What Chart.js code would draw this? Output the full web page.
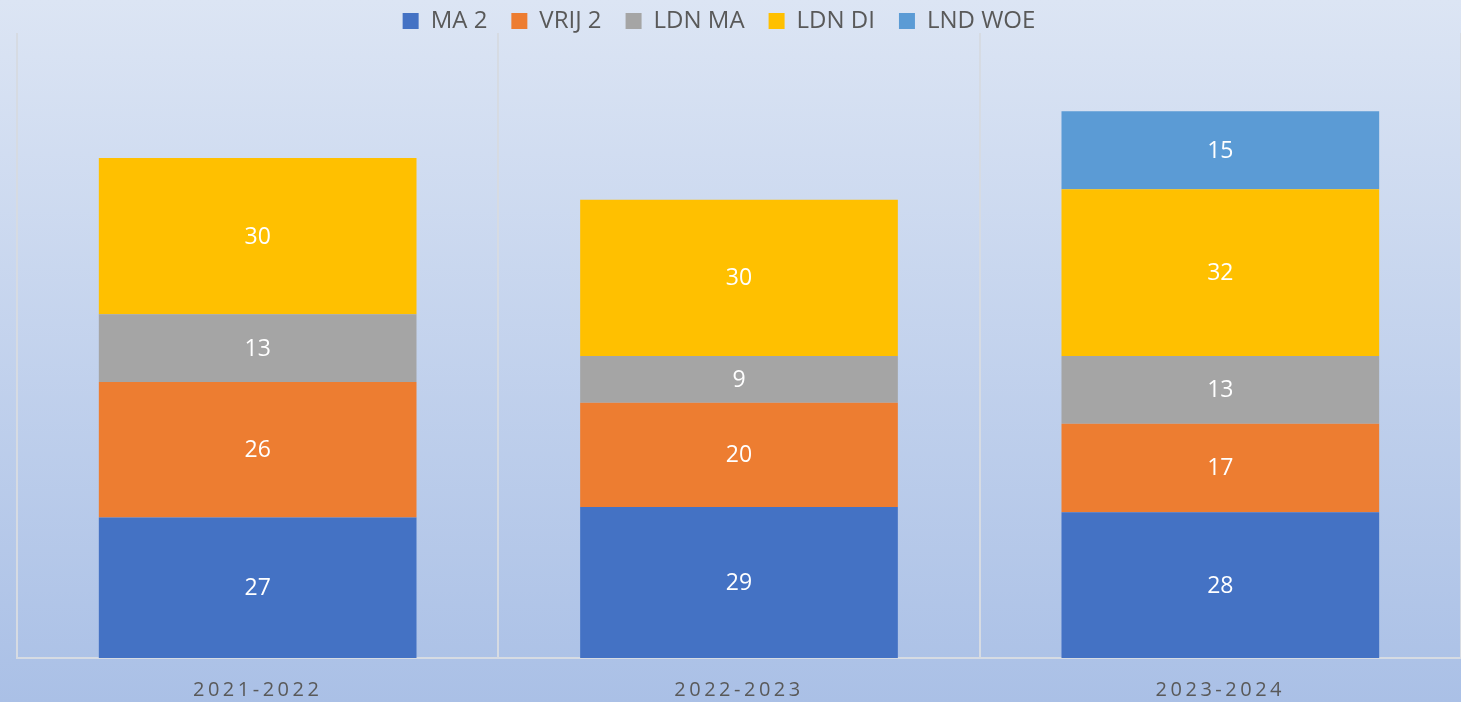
<!DOCTYPE html>
<html>
<head>
<meta charset="utf-8">
<script src="https://cdn.jsdelivr.net/npm/chart.js@4/dist/chart.umd.min.js"></script>
<style>
    html, body { margin: 0; padding: 0; overflow: hidden; }
    #wrap { width: 1461px; height: 702px; }
</style>
</head>
<body>
<div id="wrap"><canvas id="schoolChart"></canvas></div>
<script>
const years = ["2021-2022", "2022-2023", "2023-2024"];
const seriesNames = ["MA 2", "VRIJ 2", "LDN MA", "LDN DI", "LND WOE"];
const ma2 = [27, 29, 28];
const vrij2 = [26, 20, 17];
const ldnMa = [13, 9, 13];
const ldnDi = [30, 30, 32];
const lndWoe = [null, null, 15];
const seriesColors = ["#4472C4", "#ED7D31", "#A5A5A5", "#FFC000", "#5B9BD5"];

const textColor = "#595959";
const fontName = "'Open Sans', 'Noto Sans', sans-serif";

// achtergrond met verloop
const backgroundPlugin = {
    id: "gradientBackground",
    afterLayout(chart) {
        // legenda iets naar links, zoals in het origineel
        if (chart.legend) {
            chart.legend.left -= 20;
            chart.legend.right -= 20;
        }
    },
    beforeDraw(chart) {
        const ctx = chart.ctx;
        const g = ctx.createLinearGradient(0, 0, 0, chart.height);
        g.addColorStop(0, "#dce5f4");
        g.addColorStop(1, "#aac0e6");
        ctx.save();
        ctx.fillStyle = g;
        ctx.fillRect(0, 0, chart.width, chart.height);
        ctx.restore();

        // letterafstand voor de jaartallen onder de as
        const xScale = chart.scales.x;
        if (xScale && !xScale._spaced) {
            const orig = xScale.drawLabels;
            xScale.drawLabels = function (area) {
                this.ctx.save();
                this.ctx.letterSpacing = "3.5px";
                orig.call(this, area);
                this.ctx.restore();
            };
            xScale._spaced = true;
        }
    },
};

// waarden in het midden van elk segment
const valueLabels = {
    id: "valueLabels",
    afterDatasetsDraw(chart) {
        const ctx = chart.ctx;
        ctx.save();
        ctx.fillStyle = "#ffffff";
        ctx.font = "23px " + fontName;
        ctx.textAlign = "center";
        ctx.textBaseline = "middle";
        chart.data.datasets.forEach((ds, i) => {
            const meta = chart.getDatasetMeta(i);
            meta.data.forEach((bar, j) => {
                const v = ds.data[j];
                if (v === null || v === undefined) return;
                const p = bar.getProps(["x", "y", "base"], true);
                ctx.fillText(String(v), p.x, (p.y + p.base) / 2 + 1);
            });
        });
        ctx.restore();
    },
};

const allSeries = [ma2, vrij2, ldnMa, ldnDi, lndWoe];

new Chart(document.getElementById("schoolChart"), {
    type: "bar",
    data: {
        labels: years,
        datasets: seriesNames.map((name, i) => ({
            label: name,
            data: allSeries[i],
            backgroundColor: seriesColors[i],
            borderWidth: 0,
            categoryPercentage: 1,
            barPercentage: 0.66,
        })),
    },
    options: {
        responsive: true,
        maintainAspectRatio: false,
        animation: false,
        layout: { padding: { left: 17, right: 0, top: -15, bottom: 0 } },
        scales: {
            x: {
                stacked: true,
                grid: {
                    offset: true,
                    color: "#d6dbe3",
                    lineWidth: 2,
                    drawTicks: false,
                },
                border: { display: true, color: "#d6dbe3", width: 2 },
                ticks: {
                    color: textColor,
                    font: { family: fontName, size: 20 },
                    padding: 20,
                },
                afterFit(scale) {
                    scale.height = 44;
                },
            },
            y: {
                stacked: true,
                display: false,
                min: 0,
                max: 120,
            },
        },
        plugins: {
            legend: {
                display: true,
                position: "top",
                maxHeight: 48,
                labels: {
                    color: textColor,
                    font: { family: fontName, size: 24 },
                    boxWidth: 16,
                    boxHeight: 16,
                    padding: 24,
                },
            },
            tooltip: { enabled: false },
        },
    },
    plugins: [backgroundPlugin, valueLabels],
});
</script>
</body>
</html>
